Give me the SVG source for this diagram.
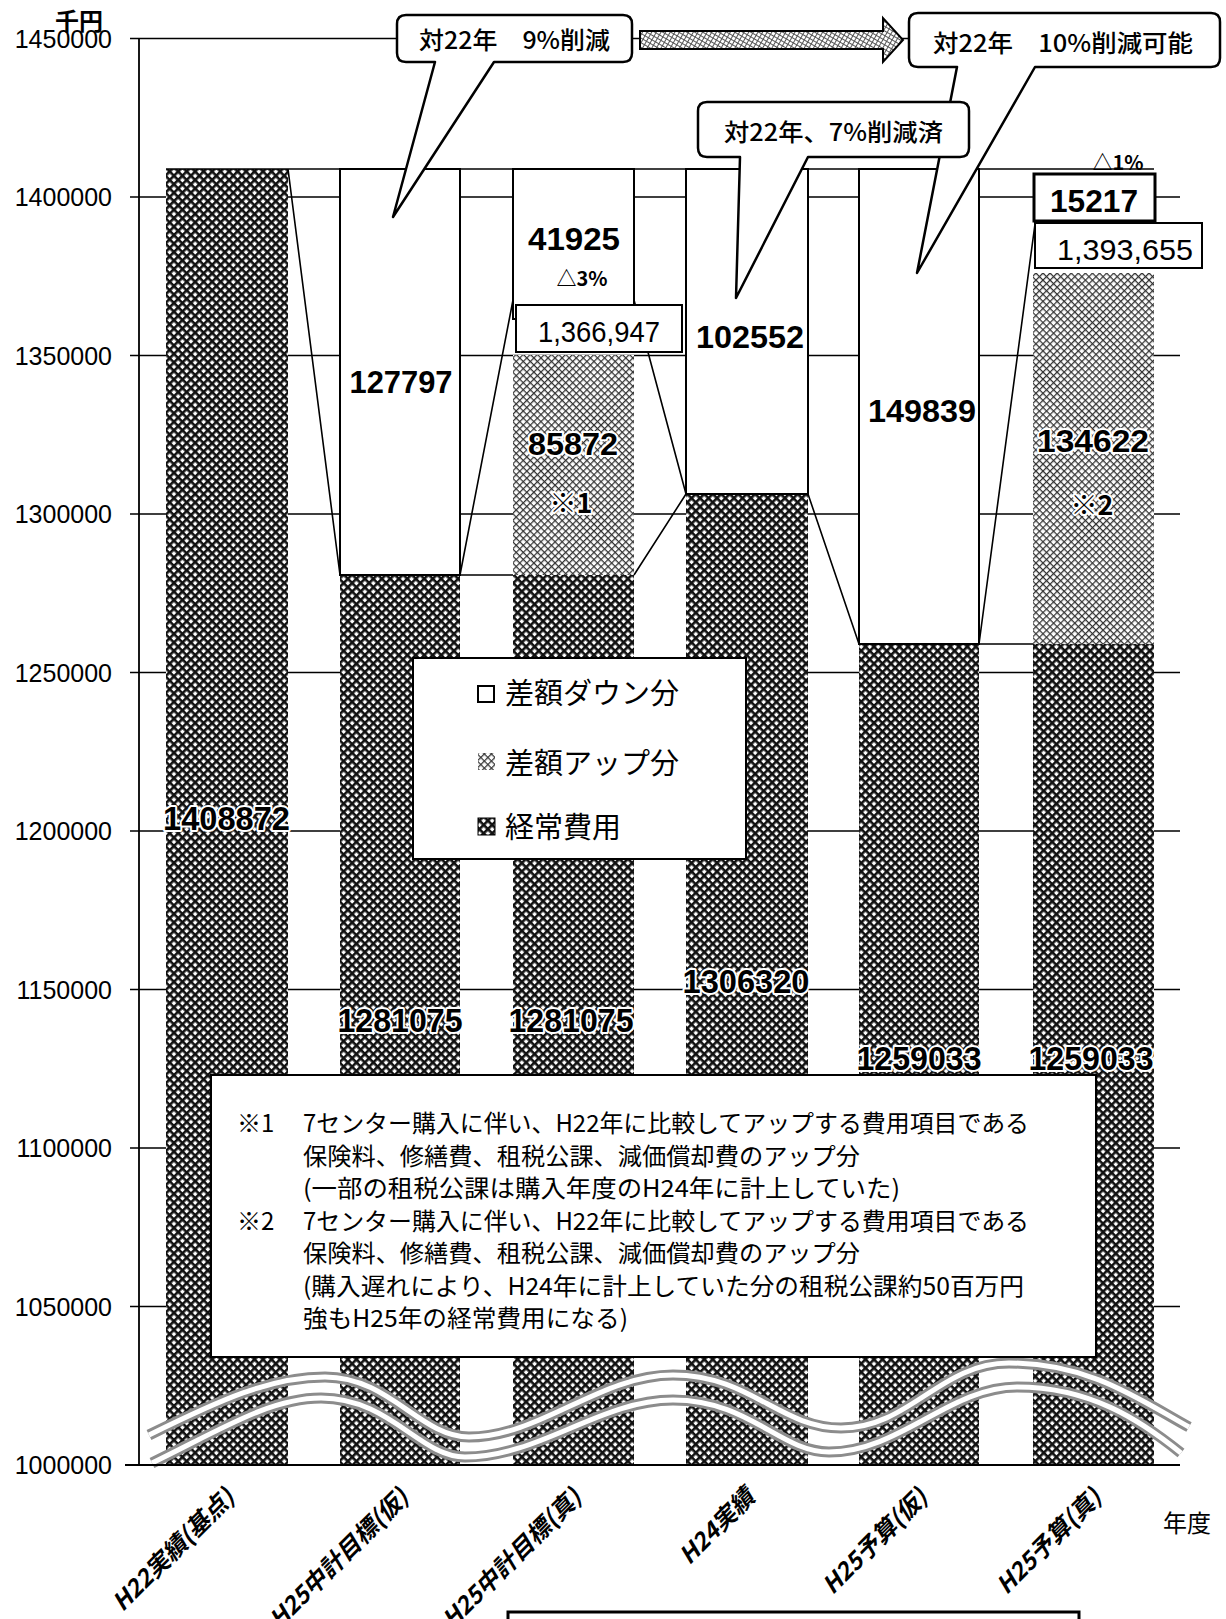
<svg xmlns="http://www.w3.org/2000/svg" width="1226" height="1619" viewBox="0 0 1226 1619">
<defs>
<pattern id="dark" width="6" height="6" patternUnits="userSpaceOnUse" patternTransform="rotate(45)">
<rect width="6" height="6" fill="#fff"/>
<rect width="6" height="2.6" fill="#111"/>
<rect width="2.6" height="6" fill="#111"/>
</pattern>
<pattern id="gray" width="5" height="5" patternUnits="userSpaceOnUse" patternTransform="rotate(45)">
<rect width="5" height="5" fill="#fff"/>
<path d="M0,0.6H5M0.6,0V5" stroke="#333" stroke-width="1.3"/>
</pattern>
<pattern id="light" width="4" height="4" patternUnits="userSpaceOnUse" patternTransform="rotate(30)">
<rect width="4" height="4" fill="#fff"/>
<path d="M0,0.5H4M0.5,0V4" stroke="#555" stroke-width="1"/>
</pattern>
<style>
.ax{font-family:"Liberation Sans",Arial,sans-serif;font-size:25px;text-anchor:end;fill:#000}
.jp{font-family:"Noto Sans CJK JP",sans-serif;fill:#000}
.cj{font-family:"Noto Sans CJK JP",sans-serif;fill:#000;font-weight:500}
.num{font-family:"Liberation Sans",Arial,sans-serif;font-weight:bold;text-anchor:middle;fill:#000}
.reg{font-family:"Liberation Sans",Arial,sans-serif;text-anchor:middle;fill:#000}
.grid{stroke:#000;stroke-width:1.5;fill:none}
.wbar{fill:#fff;stroke:#000;stroke-width:2}
.conn{stroke:#000;stroke-width:1.6;fill:none}
.box{fill:#fff;stroke:#000;stroke-width:2}
.call{fill:#fff;stroke:#000;stroke-width:2.5;stroke-linejoin:round}
.halo{stroke:#fff;stroke-width:4;paint-order:stroke;stroke-linejoin:round}
.xl{font-family:"Noto Sans CJK JP",sans-serif;font-size:24px;font-weight:bold;font-style:italic;text-anchor:end;fill:#000}
.wave1{fill:none;stroke:#8c8c8c;stroke-width:11}
.wave2{fill:none;stroke:#fff;stroke-width:5}
</style>
</defs>
<rect width="1226" height="1619" fill="#fff"/>

<g id="gridlines">
<path class="grid" d="M130,38.5H1180M130,197H1180M130,355.5H1180M130,514H1180M130,672.5H1180M130,831H1180M130,989.5H1180M130,1148H1180M130,1306.5H1180"/>
</g>

<g id="y-axis">
<line x1="139" y1="38" x2="139" y2="1465" stroke="#000" stroke-width="1.8"/>
<text class="jp" x="55" y="30" font-size="24" font-weight="bold">千円</text>
<text class="ax" x="112" y="47.5">1450000</text>
<text class="ax" x="112" y="206">1400000</text>
<text class="ax" x="112" y="364.5">1350000</text>
<text class="ax" x="112" y="523">1300000</text>
<text class="ax" x="112" y="681.5">1250000</text>
<text class="ax" x="112" y="840">1200000</text>
<text class="ax" x="112" y="998.5">1150000</text>
<text class="ax" x="112" y="1157">1100000</text>
<text class="ax" x="112" y="1315.5">1050000</text>
<text class="ax" x="112" y="1474">1000000</text>
</g>

<g id="bar-h22">
<rect x="166" y="169" width="122" height="1296" fill="url(#dark)"/>
</g>
<g id="bar-h25-target-provisional">
<rect x="340" y="575" width="120" height="890" fill="url(#dark)"/>
<rect class="wbar" x="340" y="169" width="120" height="406"/>
</g>
<g id="bar-h25-target-true">
<rect x="513" y="575" width="121" height="890" fill="url(#dark)"/>
<rect x="513" y="355" width="121" height="220" fill="url(#gray)"/>
<rect class="wbar" x="513" y="169" width="121" height="150"/>
</g>
<g id="bar-h24">
<rect x="686" y="494" width="122" height="971" fill="url(#dark)"/>
<rect class="wbar" x="686" y="169" width="122" height="325"/>
</g>
<g id="bar-h25-budget-provisional">
<rect x="859" y="644" width="120" height="821" fill="url(#dark)"/>
<rect class="wbar" x="859" y="169" width="120" height="475"/>
</g>
<g id="bar-h25-budget-true">
<rect x="1033" y="644" width="121" height="821" fill="url(#dark)"/>
<rect x="1033" y="273" width="121" height="371" fill="url(#gray)"/>
</g>

<g id="connectors">
<path class="conn" d="M166,169H1154"/>
<path class="conn" d="M288,169L340,575M460,575H513M634,575L686,494M808,494L859,644M979,644H1033"/>
<path class="conn" d="M460,575L513,300M634,300L686,494M979,644L1035,224"/>
</g>

<g id="break-marks">
<path class="wave1" d="M149,1435 C220,1400 270,1377 325,1377 C390,1377 420,1437 469,1437 C540,1437 600,1375 673,1375 C750,1375 780,1428 841,1428 C910,1428 940,1363 1009,1363 C1090,1363 1140,1400 1189,1427"/>
<path class="wave2" d="M149,1435 C220,1400 270,1377 325,1377 C390,1377 420,1437 469,1437 C540,1437 600,1375 673,1375 C750,1375 780,1428 841,1428 C910,1428 940,1363 1009,1363 C1090,1363 1140,1400 1189,1427"/>
<path class="wave1" d="M152,1463 C220,1430 270,1398 321,1398 C390,1398 420,1457 465,1457 C540,1457 600,1400 673,1400 C750,1400 780,1452 829,1452 C900,1452 950,1387 1017,1387 C1090,1387 1140,1420 1181,1453"/>
<path class="wave2" d="M152,1463 C220,1430 270,1398 321,1398 C390,1398 420,1457 465,1457 C540,1457 600,1400 673,1400 C750,1400 780,1452 829,1452 C900,1452 950,1387 1017,1387 C1090,1387 1140,1420 1181,1453"/>
</g>

<g id="x-axis">
<line x1="125" y1="1465" x2="1180" y2="1465" stroke="#000" stroke-width="2.2"/>
<text class="xl" x="236" y="1499" transform="rotate(-45 236 1499)">H22実績(基点)</text>
<text class="xl" x="410" y="1499" transform="rotate(-45 410 1499)">H25中計目標(仮)</text>
<text class="xl" x="583" y="1499" transform="rotate(-45 583 1499)">H25中計目標(真)</text>
<text class="xl" x="756" y="1499" transform="rotate(-45 756 1499)">H24実績</text>
<text class="xl" x="929" y="1499" transform="rotate(-45 929 1499)">H25予算(仮)</text>
<text class="xl" x="1103" y="1499" transform="rotate(-45 1103 1499)">H25予算(真)</text>
<text class="jp" x="1163" y="1532" font-size="24">年度</text>
</g>

<g id="value-labels">
<text class="num" x="401" y="393" font-size="32" textLength="103" lengthAdjust="spacingAndGlyphs">127797</text>
<text class="num" x="574" y="250" font-size="32" textLength="92" lengthAdjust="spacingAndGlyphs">41925</text>
<text class="jp" x="582" y="286" font-size="20" font-weight="bold" text-anchor="middle">△3%</text>
<text class="num" x="750" y="348" font-size="32" textLength="108" lengthAdjust="spacingAndGlyphs">102552</text>
<text class="num" x="922" y="422" font-size="32" textLength="108" lengthAdjust="spacingAndGlyphs">149839</text>
<text class="num halo" x="573" y="455" font-size="32" textLength="90" lengthAdjust="spacingAndGlyphs">85872</text>
<text class="jp halo" x="571" y="513" font-size="27" font-weight="bold" text-anchor="middle">※1</text>
<text class="num halo" x="1093" y="452" font-size="32" textLength="112" lengthAdjust="spacingAndGlyphs">134622</text>
<text class="jp halo" x="1092" y="515" font-size="27" font-weight="bold" text-anchor="middle">※2</text>
<text class="jp" x="1118" y="170" font-size="20" font-weight="bold" text-anchor="middle">△1%</text>
<text class="num halo" x="226.5" y="830" font-size="33" textLength="127" lengthAdjust="spacingAndGlyphs">1408872</text>
<text class="num halo" x="400" y="1032" font-size="33" textLength="125" lengthAdjust="spacingAndGlyphs">1281075</text>
<text class="num halo" x="571" y="1032" font-size="33" textLength="125" lengthAdjust="spacingAndGlyphs">1281075</text>
<text class="num halo" x="746" y="993" font-size="33" textLength="127" lengthAdjust="spacingAndGlyphs">1306320</text>
<text class="num halo" x="919" y="1070" font-size="33" textLength="125" lengthAdjust="spacingAndGlyphs">1259033</text>
<text class="num halo" x="1091" y="1070" font-size="33" textLength="125" lengthAdjust="spacingAndGlyphs">1259033</text>
</g>

<g id="total-box-1366947">
<rect class="box" x="516" y="305" width="166" height="47"/>
<text class="reg" x="599" y="342" font-size="29" textLength="122" lengthAdjust="spacingAndGlyphs">1,366,947</text>
</g>
<g id="box-15217">
<rect x="1034" y="174" width="121" height="47" fill="#fff" stroke="#000" stroke-width="3"/>
<text class="num" x="1094" y="212" font-size="31" textLength="88" lengthAdjust="spacingAndGlyphs">15217</text>
</g>
<g id="total-box-1393655">
<rect class="box" x="1035" y="223" width="167" height="45"/>
<text class="reg" x="1125" y="260" font-size="30" textLength="136" lengthAdjust="spacingAndGlyphs">1,393,655</text>
</g>

<g id="callout-10pct">
<path class="call" d="M918,13 H1211 Q1220,13 1220,22 V58 Q1220,67 1211,67 H1035 L917,273 L957,67 H918 Q909,67 909,58 V22 Q909,13 918,13 Z"/>
<text class="cj" x="933" y="52" font-size="24" textLength="260" lengthAdjust="spacingAndGlyphs">対22年　10%削減可能</text>
</g>
<g id="callout-7pct">
<path class="call" d="M707,102 H960 Q969,102 969,111 V148 Q969,157 960,157 H808 L736,298 L740,157 H707 Q698,157 698,148 V111 Q698,102 707,102 Z"/>
<text class="cj" x="724" y="141" font-size="24" textLength="219" lengthAdjust="spacingAndGlyphs">対22年、7%削減済</text>
</g>
<g id="callout-9pct">
<path class="call" d="M406,15 H623 Q632,15 632,24 V53 Q632,62 623,62 H494 L393,217 L435,62 H406 Q397,62 397,53 V24 Q397,15 406,15 Z"/>
<text class="cj" x="419" y="49" font-size="24" textLength="191" lengthAdjust="spacingAndGlyphs">対22年　9%削減</text>
</g>
<g id="arrow">
<path d="M640,31 H883 V18 L903,40 L883,62 V49 H640 Z" fill="url(#light)" stroke="#000" stroke-width="2" stroke-linejoin="miter"/>
</g>

<g id="legend">
<rect class="box" x="413" y="658" width="333" height="201"/>
<rect x="478" y="686" width="16" height="16" fill="#fff" stroke="#000" stroke-width="2"/>
<rect x="478" y="753" width="17" height="17" fill="url(#gray)"/>
<rect x="478" y="818" width="17" height="17" fill="url(#dark)" stroke="#000" stroke-width="1"/>
<text class="jp" x="505" y="704" font-size="29">差額ダウン分</text>
<text class="jp" x="505" y="774" font-size="29">差額アップ分</text>
<text class="jp" x="505" y="838" font-size="29">経常費用</text>
</g>

<g id="footnote">
<rect class="box" x="211" y="1075" width="885" height="282"/>
<text class="jp" x="237" y="1132" font-size="24">※1</text>
<text class="jp" x="303" y="1132" font-size="24" textLength="726" lengthAdjust="spacingAndGlyphs">7センター購入に伴い、H22年に比較してアップする費用項目である</text>
<text class="jp" x="303" y="1164.5" font-size="24" textLength="557" lengthAdjust="spacingAndGlyphs">保険料、修繕費、租税公課、減価償却費のアップ分</text>
<text class="jp" x="303" y="1197" font-size="24" textLength="597" lengthAdjust="spacingAndGlyphs">(一部の租税公課は購入年度のH24年に計上していた)</text>
<text class="jp" x="237" y="1229.5" font-size="24">※2</text>
<text class="jp" x="303" y="1229.5" font-size="24" textLength="726" lengthAdjust="spacingAndGlyphs">7センター購入に伴い、H22年に比較してアップする費用項目である</text>
<text class="jp" x="303" y="1262" font-size="24" textLength="557" lengthAdjust="spacingAndGlyphs">保険料、修繕費、租税公課、減価償却費のアップ分</text>
<text class="jp" x="303" y="1294.5" font-size="24" textLength="721" lengthAdjust="spacingAndGlyphs">(購入遅れにより、H24年に計上していた分の租税公課約50百万円</text>
<text class="jp" x="303" y="1327" font-size="24" textLength="325" lengthAdjust="spacingAndGlyphs">強もH25年の経常費用になる)</text>
</g>

<g id="bottom-frame">
<rect x="508" y="1612" width="571" height="30" fill="none" stroke="#000" stroke-width="3"/>
</g>
</svg>
